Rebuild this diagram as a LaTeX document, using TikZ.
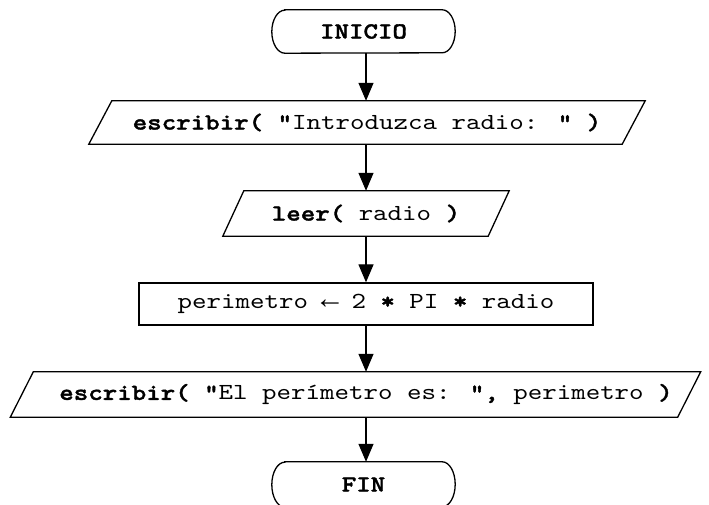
\documentclass[tikz,border=0pt]{standalone}
\usepackage{fontspec}
\newfontfamily\codefont{lmmono10-regular.otf}[BoldFont=lmmonolt10-bold.otf, BoldFeatures={FakeBold=1.6}, FakeStretch=1.2]
\newfontfamily\arrowfont{Liberation Mono}
\usetikzlibrary{arrows.meta}

\tikzset{
  outline/.style={draw=black, line width=1.3pt, line join=miter},
  flow/.style={draw=black, line width=1.3pt, -{Triangle[length=18pt,width=15pt]}},
  label/.style={inner sep=0pt, font=\codefont\fontsize{23}{28}\selectfont},
}
% left arrow sized to one code character cell
\newcommand{\assignarrow}{\makebox[14.49pt]{\arrowfont\fontsize{30}{30}\selectfont ←}}

\begin{document}
\begin{tikzpicture}[x=1pt,y=1pt]
  \useasboundingbox (0,0) rectangle (709,505);

  % start terminal
  \node[label, minimum width=183, minimum height=43] (ini) at (363.5,473.5) {\textbf{INICIO}};
  \draw[outline] ([xshift=13]ini.north west) -- ([xshift=-13]ini.north east)
    arc[start angle=90, end angle=-90, x radius=13pt, y radius=21.5pt]
    -- ([xshift=13]ini.south west)
    arc[start angle=270, end angle=90, x radius=13pt, y radius=21.5pt] -- cycle;

  % output of the prompt
  \node[label, minimum width=533, minimum height=43] (p1) at (367,382.5)
    {\textbf{escribir(} \textbf{"}Introduzca radio: \textbf{"} \textbf{)}};
  \draw[outline] ([xshift=-11.5]p1.south west) -- ([xshift=11.5]p1.north west)
    -- ([xshift=11.5]p1.north east) -- ([xshift=-11.5]p1.south east) -- cycle;

  % read the radius
  \node[label, minimum width=265, minimum height=45] (p2) at (366,291.5)
    {\textbf{leer(} radio \textbf{)}};
  \draw[outline] ([xshift=-10.5]p2.south west) -- ([xshift=10.5]p2.north west)
    -- ([xshift=10.5]p2.north east) -- ([xshift=-10.5]p2.south east) -- cycle;

  % compute the perimeter
  \node[label, draw=black, line width=1.3pt, minimum width=454, minimum height=42] (calc) at (366,201)
    {perimetro \assignarrow{} 2 \textbf{*} PI \textbf{*} radio};

  % output of the result
  \node[minimum width=667, minimum height=45, inner sep=0pt] (p3) at (355.5,110.5) {};
  \draw[outline] ([xshift=-11.5]p3.south west) -- ([xshift=11.5]p3.north west)
    -- ([xshift=11.5]p3.north east) -- ([xshift=-11.5]p3.south east) -- cycle;
  \node[label] (p3t) at (366,110.5)
    {\textbf{escribir(} \textbf{"}El perímetro es: \textbf{",} perimetro \textbf{)}};

  % end terminal, its lower edge runs just past the page
  \node[label, minimum width=183, minimum height=45] (fin) at (363.5,20.5) {\textbf{FIN}};
  \draw[outline] ([xshift=13]fin.north west) -- ([xshift=-13]fin.north east)
    arc[start angle=90, end angle=-90, x radius=13pt, y radius=22.5pt]
    -- ([xshift=13]fin.south west)
    arc[start angle=270, end angle=90, x radius=13pt, y radius=22.5pt] -- cycle;

  % connectors
  \draw[flow] (ini.south -| calc.center) -- (p1.north -| calc.center);
  \draw[flow] (p1.south -| calc.center) -- (p2.north -| calc.center);
  \draw[flow] (p2.south -| calc.center) -- (calc.north);
  \draw[flow] (calc.south) -- (calc.south |- p3.north);
  \draw[flow] (calc.south |- p3.south) -- (calc.south |- fin.north);
\end{tikzpicture}
\end{document}
